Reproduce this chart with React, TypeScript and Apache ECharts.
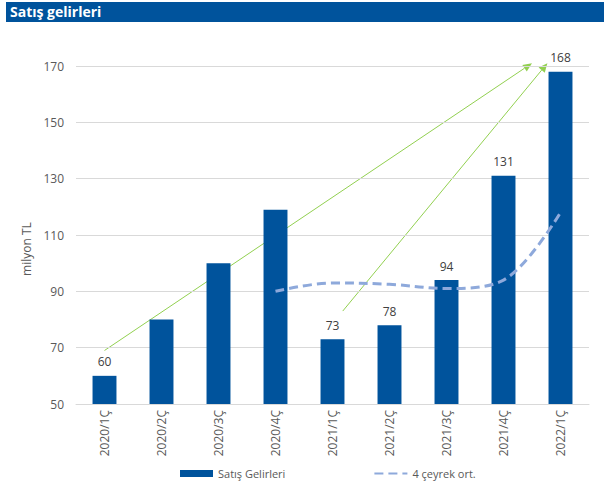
import React, { useEffect, useRef } from "react";
import * as echarts from "echarts";

const categories = ["2020/1Ç", "2020/2Ç", "2020/3Ç", "2020/4Ç", "2021/1Ç", "2021/2Ç", "2021/3Ç", "2021/4Ç", "2022/1Ç"];
const revenue = [60, 80, 100, 119, 73, 78, 94, 131, 168];
const labelled = [true, false, false, false, true, true, true, true, true];
const avg4q = [null, null, null, 90, 93, 92.5, 91, 94, 118];
const arrow1 = [[0, 69], [7.5, 171]];
const arrow2 = [[4.18, 83], [7.77, 171]];

const FONT = "'Open Sans', 'Liberation Sans', sans-serif";

export default function App() {
  const ref = useRef<HTMLDivElement>(null);
  useEffect(() => {
    document.body.style.margin = "0";
    const chart = echarts.init(ref.current!, null, { renderer: "svg" });
    const green = "#92D050";
    const header = [
      { type: "rect", left: 6, top: 2, shape: { width: 598, height: 20 }, style: { fill: "#00539C" } },
      { type: "text", left: 10, top: 4, style: { text: "Satış gelirleri", fill: "#fff", font: `bold 14px ${FONT}` } },
    ];
    chart.setOption({
      animation: false,
      textStyle: { fontFamily: FONT },
      graphic: header,
      grid: { left: 76, right: 17, top: 66, bottom: 86, outerBoundsMode: "none", containLabel: false },
      legend: {
        bottom: 6,
        left: 175,
        itemGap: 88,
        itemWidth: 33,
        itemHeight: 7,
        textStyle: { color: "#595959", fontSize: 11, fontFamily: FONT },
        data: [
          { name: "Satış Gelirleri", icon: "rect" },
          { name: "4 çeyrek ort.", itemStyle: { opacity: 0 } },
        ],
      },
      xAxis: {
        type: "category",
        data: categories,
        axisLine: { lineStyle: { color: "#D9D9D9" } },
        axisTick: { show: false },
        axisLabel: { rotate: 90, color: "#595959", fontSize: 12, margin: 6 },
      },
      yAxis: {
        type: "value",
        min: 50,
        max: 170,
        interval: 20,
        name: "milyon TL",
        nameLocation: "middle",
        nameGap: 33,
        nameTextStyle: { color: "#595959", fontSize: 12, padding: [0, 28, 0, 0] },
        axisLabel: { color: "#595959", fontSize: 12, margin: 12 },
        splitLine: { lineStyle: { color: "#D9D9D9" } },
        axisLine: { show: false },
        axisTick: { show: false },
      },
      series: [
        {
          name: "Satış Gelirleri",
          type: "bar",
          barWidth: "42%",
          itemStyle: { color: "#00539C" },
          data: revenue.map((v, i) => ({
            value: v,
            label: { show: labelled[i], position: "top", distance: 8, color: "#404040", fontSize: 12 },
          })),
        },
        {
          name: "4 çeyrek ort.",
          type: "line",
          smooth: 0.35,
          symbol: "none",
          lineStyle: { color: "#8EA9DB", width: 3, type: [9, 5] },
          itemStyle: { color: "#8EA9DB" },
          data: avg4q,
        },
      ],
    });
    const finder = { xAxisIndex: 0, yAxisIndex: 0 };
    const toPx = (p: number[]) => {
      const i0 = Math.floor(p[0]);
      const a = chart.convertToPixel(finder, [i0, p[1]]) as number[];
      const b = chart.convertToPixel(finder, [i0 + 1, p[1]]) as number[];
      return [a[0] + (p[0] - i0) * (b[0] - a[0]), a[1]];
    };
    const arrowEls = (pts: number[][]) => {
      const a = toPx(pts[0]);
      const b = toPx(pts[1]);
      const dx = b[0] - a[0];
      const dy = b[1] - a[1];
      const len = Math.hypot(dx, dy);
      const ux = dx / len;
      const uy = dy / len;
      const hl = 9;
      const hw = 4;
      const bx = b[0] - ux * hl;
      const by = b[1] - uy * hl;
      return [
        {
          type: "line",
          shape: { x1: a[0], y1: a[1], x2: bx, y2: by },
          style: { stroke: green, lineWidth: 1 },
          silent: true,
        },
        {
          type: "polygon",
          shape: {
            points: [
              [b[0], b[1]],
              [bx - uy * hw, by + ux * hw],
              [bx + uy * hw, by - ux * hw],
            ],
          },
          style: { fill: green },
          silent: true,
        },
      ];
    };
    chart.setOption({ graphic: [...header, ...arrowEls(arrow1), ...arrowEls(arrow2)] });
    return () => chart.dispose();
  }, []);
  return <div ref={ref} style={{ width: 606, height: 490 }} />;
}
